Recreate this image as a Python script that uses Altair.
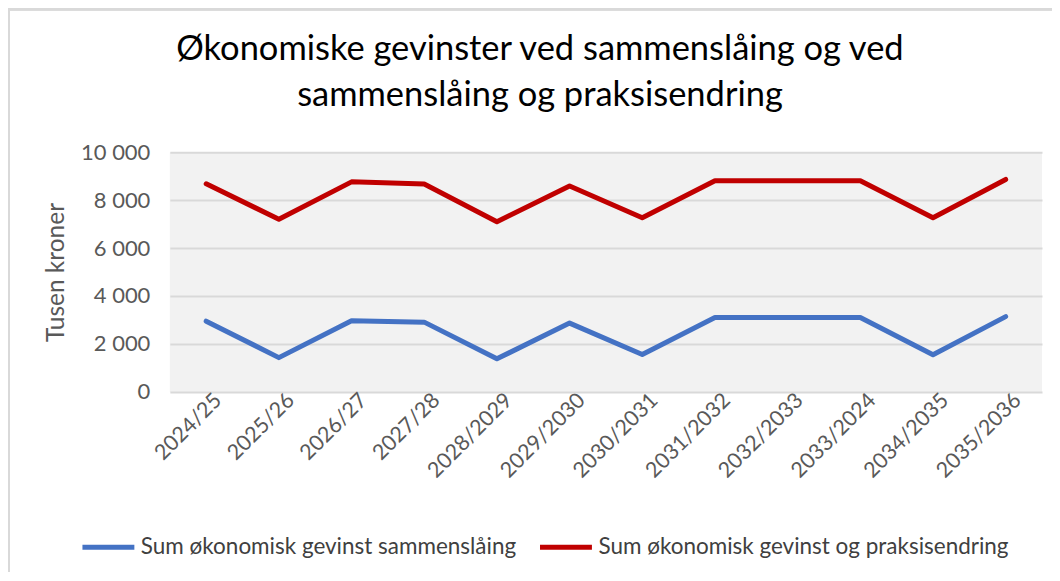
import altair as alt
import pandas as pd

categories = ["2024/25", "2025/26", "2026/27", "2027/28", "2028/2029", "2029/2030",
              "2030/2031", "2031/2032", "2032/2033", "2033/2024", "2034/2035", "2035/2036"]
series_names = ["Sum økonomisk gevinst sammenslåing", "Sum økonomisk gevinst og praksisendring"]
sammenslaaing = [2950, 1430, 2970, 2910, 1380, 2870, 1560, 3100, 3100, 3100, 1550, 3140]
praksisendring = [8680, 7200, 8760, 8670, 7100, 8590, 7260, 8810, 8810, 8810, 7260, 8860]
colors = ["#4472C4", "#C00000"]

rows = []
for i, c in enumerate(categories):
    rows.append({"periode": c, "serie": series_names[0], "verdi": sammenslaaing[i]})
    rows.append({"periode": c, "serie": series_names[1], "verdi": praksisendring[i]})
df = pd.DataFrame(rows)

FONT = "Lato"
GRAY = "#595959"

lines = alt.Chart(df).mark_line(strokeWidth=5, strokeCap="round", strokeJoin="round").encode(
    x=alt.X("periode:N", sort=categories, title=None,
            scale=alt.Scale(type="point", padding=0.5),
            axis=alt.Axis(labelAngle=-45, labelAlign="right", labelBaseline="middle",
                          labelPadding=5, labelOffset=12, labelFontSize=21.5, labelColor=GRAY,
                          labelFont=FONT, ticks=False, domain=False, grid=False)),
    y=alt.Y("verdi:Q", title="Tusen kroner",
            scale=alt.Scale(domain=[0, 10000], nice=False),
            axis=alt.Axis(values=[0, 2000, 4000, 6000, 8000, 10000],
                          labelExpr="replace(format(datum.value, ','), ',', ' ')",
                          labelFontSize=22, labelColor=GRAY, labelFont=FONT, labelPadding=20,
                          ticks=False, domain=False, gridColor="#d9d9d9", gridWidth=2,
                          titleFontSize=24.5, titleColor=GRAY, titleFont=FONT,
                          titleFontWeight="normal", titlePadding=12)),
    color=alt.Color("serie:N", title=None,
                    scale=alt.Scale(domain=series_names, range=colors),
                    legend=alt.Legend(orient="none", direction="horizontal",
                                      legendX=-90, legendY=367,
                                      symbolType="stroke", symbolSize=2700,
                                      symbolStrokeWidth=5, labelFontSize=22.5,
                                      labelFont=FONT, labelColor="#404040",
                                      columnPadding=13, labelLimit=600)),
)

frame_top = alt.Chart(df).mark_rule(color="#d9d9d9", strokeWidth=2).encode(
    x=alt.value(-162), x2=alt.value(883), y=alt.value(-143))
frame_left = alt.Chart(df).mark_rule(color="#d9d9d9", strokeWidth=2).encode(
    x=alt.value(-161), y=alt.value(-144), y2=alt.value(430))

chart = alt.layer(frame_top, frame_left, lines).properties(
    width=873, height=240,
    padding={"left": 162, "top": 144, "right": 10, "bottom": 180},
    autosize=alt.AutoSizeParams(type="none"),
    title=alt.TitleParams(
        text=["Økonomiske gevinster ved sammenslåing og ved", "sammenslåing og praksisendring"],
        fontSize=34.5, font=FONT, fontWeight="normal", color="#000000",
        anchor="middle", dx=-66, offset=-106, lineHeight=46),
    background="white",
).configure_view(fill="#f2f2f2", stroke=None)

chart.save("out.html", embed_options={"renderer": "svg", "actions": False})
